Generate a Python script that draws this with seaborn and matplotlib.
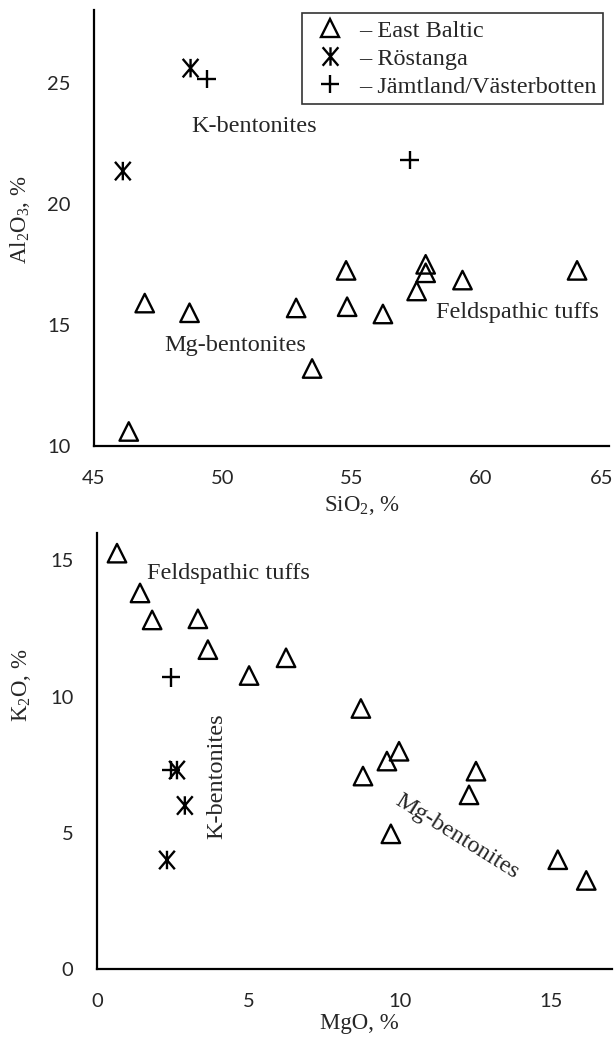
import matplotlib
matplotlib.use("Agg")
import matplotlib.pyplot as plt
import matplotlib.transforms as mtransforms
import numpy as np
import pandas as pd
import seaborn as sns
from matplotlib.path import Path
from matplotlib.lines import Line2D

# ---------------- data ----------------
series_names = ["East Baltic", "Röstanga", "Jämtland/Västerbotten"]

# Panel 1: SiO2 vs Al2O3
eb_sio2 = [46.35, 46.97, 48.71, 52.85, 53.47, 54.79, 54.83, 56.22, 57.53, 57.88, 57.88, 59.31, 63.76]
eb_al2o3 = [10.6, 15.9, 15.5, 15.7, 13.2, 17.25, 15.75, 15.45, 16.4, 17.5, 17.15, 16.85, 17.25]
ro_sio2 = [46.12, 48.75]
ro_al2o3 = [21.35, 25.6]
jv_sio2 = [49.37, 57.26]
jv_al2o3 = [25.15, 21.8]

# Panel 2: MgO vs K2O
eb_mgo = [0.66, 1.42, 1.82, 3.33, 3.66, 5.02, 6.24, 8.71, 9.97, 9.57, 8.78, 12.51, 12.28, 9.70, 15.21, 16.15]
eb_k2o = [15.26, 13.8, 12.81, 12.85, 11.72, 10.77, 11.42, 9.56, 7.99, 7.63, 7.08, 7.26, 6.39, 4.96, 4.01, 3.25]
ro_mgo = [2.64, 2.9, 2.31]
ro_k2o = [7.3, 6.0, 4.0]
jv_mgo = [2.44, 2.44]
jv_k2o = [10.7, 7.3]

top_xticks = [45, 50, 55, 60, 65]
top_yticks = [10, 15, 20, 25]
bot_xticks = [0, 5, 10, 15]
bot_yticks = [0, 5, 10, 15]

# ---------------- style ----------------
sns.set_style("white")
plt.rcParams["font.family"] = ["Liberation Serif", "DejaVu Serif"]
plt.rcParams["mathtext.fontset"] = "custom"
plt.rcParams["mathtext.rm"] = "Liberation Serif"
plt.rcParams["mathtext.it"] = "Liberation Serif:italic"

SERIF = 17.5
TICK = 14.5

asterisk = Path(
    [(0, -1), (0, 1), (-0.85, -1), (0.85, 1), (-0.85, 1), (0.85, -1)],
    [Path.MOVETO, Path.LINETO, Path.MOVETO, Path.LINETO, Path.MOVETO, Path.LINETO],
)
markers = {"East Baltic": "^", "Röstanga": asterisk, "Jämtland/Västerbotten": "+"}
msize = 13.3
mlw = 1.7

fig = plt.figure(figsize=(6.15, 10.41), dpi=100)
ax1 = fig.add_axes([94 / 615, 1 - 446 / 1041, 515 / 615, 436 / 1041])
ax2 = fig.add_axes([97 / 615, 1 - 969 / 1041, 515 / 615, 436 / 1041])


def draw(ax, groups):
    for name, xs, ys in groups:
        df = pd.DataFrame({"x": xs, "y": ys})
        sns.scatterplot(data=df, x="x", y="y", ax=ax, marker=markers[name],
                        s=msize ** 2, color="black", legend=False, zorder=3)
        coll = ax.collections[-1]
        coll.set_facecolor("none")
        coll.set_edgecolor("black")
        coll.set_linewidth(mlw)


draw(ax1, [("East Baltic", eb_sio2, eb_al2o3),
           ("Röstanga", ro_sio2, ro_al2o3),
           ("Jämtland/Västerbotten", jv_sio2, jv_al2o3)])
draw(ax2, [("East Baltic", eb_mgo, eb_k2o),
           ("Röstanga", ro_mgo, ro_k2o),
           ("Jämtland/Västerbotten", jv_mgo, jv_k2o)])

ax1.set_xlim(45, 65)
ax1.set_ylim(10, 28)
ax1.set_xticks(top_xticks)
ax1.set_yticks(top_yticks)
ax2.set_xlim(0, 17)
ax2.set_ylim(0, 16)
ax2.set_xticks(bot_xticks)
ax2.set_yticks(bot_yticks)

for ax in (ax1, ax2):
    for side in ("top", "right"):
        ax.spines[side].set_visible(False)
    for side in ("left", "bottom"):
        ax.spines[side].set_color("black")
        ax.spines[side].set_linewidth(1.6)
    ax.tick_params(axis="both", length=0, labelsize=TICK, colors="#262626")
    ax.tick_params(axis="x", pad=17)
    ax.tick_params(axis="y", pad=17)
    for lbl in ax.get_xticklabels() + ax.get_yticklabels():
        lbl.set_fontfamily("Lato")
    ax.grid(False)

# keep the last top tick label ("65") inside the picture
last = ax1.get_xticklabels()[-1]
last.set_transform(last.get_transform() +
                   mtransforms.ScaledTranslation(-7 / 100, 0, fig.dpi_scale_trans))

ax1.set_xlabel("SiO$_2$, %", fontsize=16.5)
ax1.set_ylabel("Al$_2$O$_3$, %", fontsize=16.5)
ax2.set_xlabel("MgO, %", fontsize=16.5)
ax2.set_ylabel("K$_2$O, %", fontsize=16.5)
ax1.xaxis.set_label_coords(0.52, -0.11)
ax2.xaxis.set_label_coords(0.51, -0.10)
ax1.yaxis.set_label_coords(-0.12, 0.52)
ax2.yaxis.set_label_coords(-0.125, 0.65)

# annotations
ax1.text(51.2, 23.2, "K-bentonites", fontsize=SERIF, ha="center", va="center")
ax1.text(50.5, 14.15, "Mg-bentonites", fontsize=SERIF, ha="center", va="center")
ax1.text(61.45, 15.5, "Feldspathic tuffs", fontsize=SERIF, ha="center", va="center")
ax2.text(4.35, 14.5, "Feldspathic tuffs", fontsize=SERIF, ha="center", va="center")
ax2.text(3.96, 7.08, "K-bentonites", fontsize=SERIF, ha="center", va="center", rotation=90)
ax2.text(11.9, 4.85, "Mg-bentonites", fontsize=SERIF, ha="center", va="center",
         rotation=-32, rotation_mode="anchor")

# legend
handles = [Line2D([], [], linestyle="None", marker=markers[n], markersize=msize,
                  markerfacecolor="none", markeredgecolor="black", markeredgewidth=mlw)
           for n in series_names]
labels = ["– " + n for n in series_names]
leg = ax1.legend(handles, labels, loc="upper right", bbox_to_anchor=(603 / 615, 1 - 13 / 1041),
                 bbox_transform=fig.transFigure, fontsize=SERIF, frameon=True, fancybox=False,
                 borderpad=0.28, handlelength=1.75, handletextpad=0.3, labelspacing=0.24,
                 borderaxespad=0)
leg.get_frame().set_edgecolor("black")
leg.get_frame().set_linewidth(1.2)

fig.savefig("out.png", dpi=100)
